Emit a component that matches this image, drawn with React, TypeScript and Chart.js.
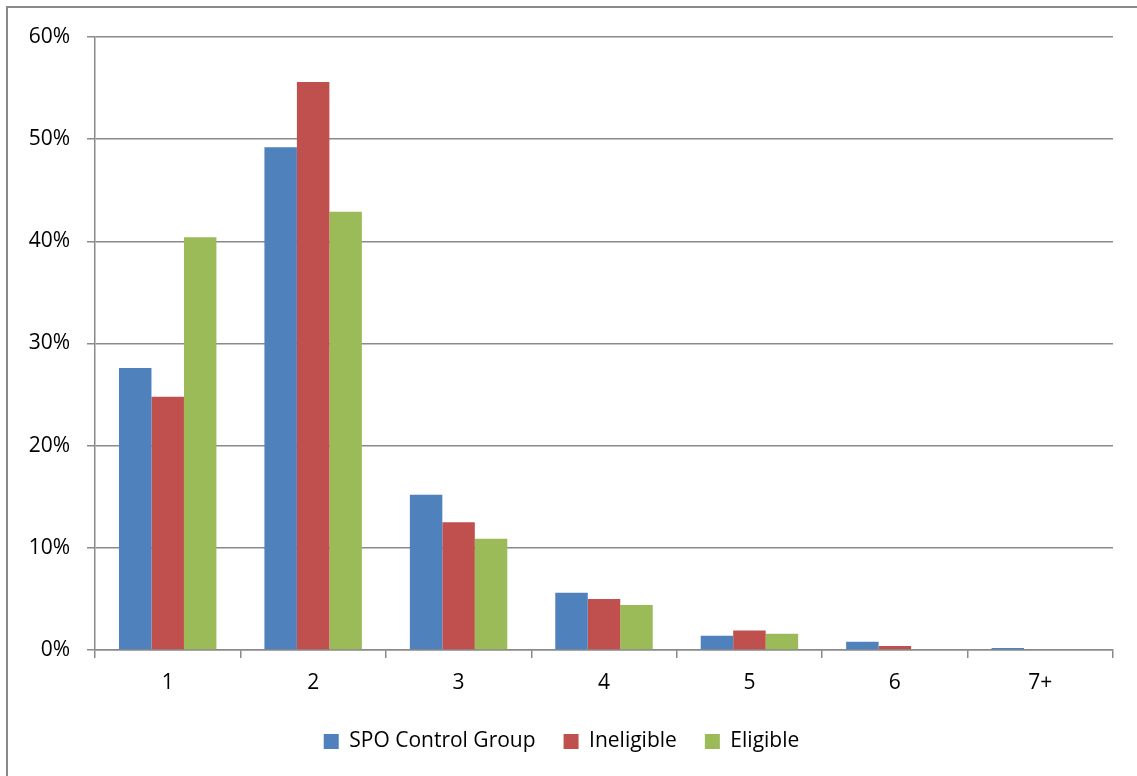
import React, { useEffect, useRef } from "react";
import { Chart, registerables } from "chart.js";

Chart.register(...registerables);

const categories = ["1", "2", "3", "4", "5", "6", "7+"];
const spoControl = [27.6, 49.2, 15.2, 5.6, 1.4, 0.8, 0.2];
const ineligible = [24.8, 55.6, 12.5, 5.0, 1.9, 0.4, 0];
const eligible = [40.4, 42.9, 10.9, 4.4, 1.6, 0, 0];
const seriesNames = ["SPO Control Group", "Ineligible", "Eligible"];
const yTicks = [0, 10, 20, 30, 40, 50, 60];

const FONT = "Open Sans";
const FS = 21;

const borderPlugin = {
  id: "outerBorder",
  beforeDraw(chart: any) {
    const ctx = chart.ctx;
    ctx.save();
    ctx.fillStyle = "#ffffff";
    ctx.fillRect(0, 0, chart.width, chart.height);
    ctx.strokeStyle = "#8a8a8a";
    ctx.lineWidth = 2;
    ctx.strokeRect(7, 7, chart.width + 20, chart.height + 20);
    ctx.restore();
  },
};

export default function App() {
  const ref = useRef<HTMLCanvasElement>(null);
  useEffect(() => {
    if (!ref.current) return;
    const chart = new Chart(ref.current, {
      type: "bar",
      data: {
        labels: categories,
        datasets: [
          { label: seriesNames[0], data: spoControl, backgroundColor: "#4F81BD" },
          { label: seriesNames[1], data: ineligible, backgroundColor: "#C0504D" },
          { label: seriesNames[2], data: eligible, backgroundColor: "#9BBB59" },
        ],
      },
      plugins: [borderPlugin],
      options: {
        animation: false,
        responsive: false,
        maintainAspectRatio: false,
        layout: { padding: { left: 10, right: 24, top: 37, bottom: 14 } },
        datasets: { bar: { barPercentage: 1, categoryPercentage: 0.67 } },
        plugins: {
          tooltip: { enabled: false },
          legend: {
            position: "bottom",
            labels: {
              color: "#000",
              font: { family: FONT, size: FS },
              boxWidth: 15,
              boxHeight: 15,
              padding: 28,
            },
          },
        },
        scales: {
          x: {
            afterFit(scale: any) {
              scale.height = 53;
            },
            grid: {
              offset: true,
              drawOnChartArea: false,
              drawTicks: true,
              tickLength: 8,
              color: "#8a8a8a",
              lineWidth: 1.5,
            },
            border: { display: true, color: "#8a8a8a", width: 1.5 },
            ticks: { color: "#000", font: { family: FONT, size: FS }, padding: 12 },
          },
          y: {
            min: 0,
            max: 60,
            afterFit(scale: any) {
              scale.width = 85;
            },
            afterBuildTicks(scale: any) {
              scale.ticks = yTicks.map((v) => ({ value: v }));
            },
            grid: {
              color: "#8a8a8a",
              lineWidth: 1.5,
              drawTicks: true,
              tickLength: 8,
            },
            border: { display: true, color: "#8a8a8a", width: 1.5 },
            ticks: {
              color: "#000",
              font: { family: FONT, size: FS },
              padding: 17,
              callback: (v: any) => v + "%",
            },
          },
        },
      },
    });
    return () => chart.destroy();
  }, []);
  return (
    <div style={{ position: "absolute", left: 0, top: 0, width: 1137, height: 776 }}>
      <canvas ref={ref} width={1137} height={776} style={{ display: "block" }} />
    </div>
  );
}
